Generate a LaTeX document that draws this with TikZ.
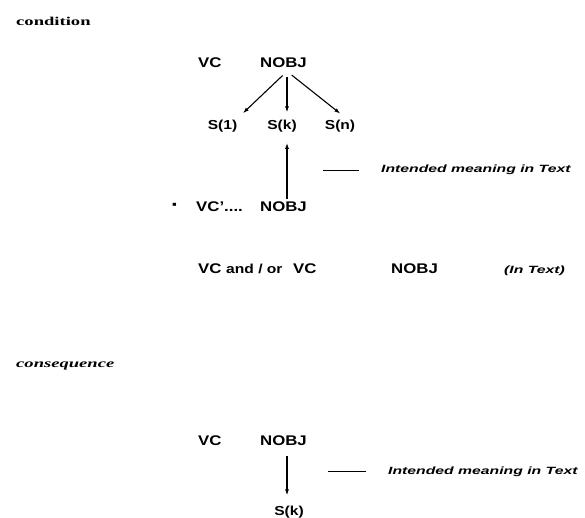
\documentclass[tikz,border=0pt]{standalone}
\usepackage{fontspec}
\setmainfont{Liberation Sans}
\newfontfamily\termfont[FakeStretch=1.2]{Liberation Sans}
\newfontfamily\glossfont[FakeStretch=1.5]{Liberation Sans}
\newfontfamily\headfont[FakeStretch=1.55]{Liberation Serif}
\usetikzlibrary{positioning, arrows.meta}
\tikzset{
  term/.style  = {inner sep=3pt, font=\termfont\bfseries\fontsize{14}{16}\selectfont},
  small/.style = {inner sep=3pt, font=\termfont\bfseries\fontsize{13}{15}\selectfont},
  gloss/.style = {inner sep=1pt, font=\glossfont\bfseries\itshape\fontsize{10.5}{12}\selectfont},
  head/.style  = {inner sep=1pt, anchor=base west, font=\headfont\bfseries\fontsize{12}{14}\selectfont},
  ar/.style    = {-{Latex[length=6pt,width=4pt]}, line width=1.1pt, draw=black},
  rule/.style  = {line width=1.1pt, draw=black},
}

\begin{document}
\begin{tikzpicture}[x=1pt, y=-1pt]
  \useasboundingbox (0,0) rectangle (585,518);

  % condition
  \node[head] (cond) at (15,26) {condition};

  \node[term, anchor=base west] (vcA) at (195,68) {VC};
  \node[term, anchor=base] (nobjA) at (283.5,68) {NOBJ};
  \node[small, anchor=base] (sOne) at (222.5,130) {S(1)};
  \node[small, anchor=base] (sK) at (282,130) {S(k)};
  \node[small, anchor=base] (sN) at (340,130) {S(n)};
  \coordinate (fork) at ([xshift=3.5pt]nobjA.south);

  \draw[ar, shorten <=6pt, shorten >=6pt] (fork) -- (sOne.30);
  \draw[ar, shorten <=6pt, shorten >=5pt] (fork) -- (fork |- sK.north);
  \draw[ar, shorten <=6pt, shorten >=6pt] (fork) -- ([xshift=5pt]sN.north);

  \node[gloss, anchor=base west] (glossA) at (380,173) {Intended meaning in Text};
  \draw[rule] ([xshift=-21pt]glossA.west) -- ([xshift=-57pt]glossA.west);

  \node[term, font=\termfont\bfseries\fontsize{20}{20}\selectfont] (dotmark) at (175,207) {·};
  \node[term, anchor=base west] (vcB) at (193,212) {VC’....};
  \node[term, anchor=base] (nobjB) at (283.5,212) {NOBJ};
  \draw[ar, shorten >=7pt] (fork |- nobjB.north) -- (fork |- sK.south);

  \node[term, anchor=base west] (vcC) at (195,273) {VC};
  \node[small, anchor=base west] (andor) at (223,273) {and / or};
  \node[term, anchor=base west] (vcD) at (290,273) {VC};
  \node[term, anchor=base west] (nobjC) at (388,273) {NOBJ};
  \node[gloss, anchor=base west] (intext) at (503,273) {(In Text)};

  % consequence
  \node[head, font=\headfont\bfseries\itshape\fontsize{12}{14}\selectfont] (cons) at (15,367) {consequence};

  \node[term, anchor=base west] (vcE) at (195,445) {VC};
  \node[term, anchor=base] (nobjE) at (283.5,445) {NOBJ};
  \node[small, anchor=base] (sKb) at (289,515) {S(k)};
  \coordinate (drop) at ([xshift=3.5pt]nobjE.south);
  \draw[ar, shorten <=8pt, shorten >=7pt] (drop) -- (drop |- sKb.north);

  \node[gloss, anchor=base west] (glossB) at (387,474) {Intended meaning in Text};
  \draw[rule] ([xshift=-21pt]glossB.west) -- ([xshift=-59pt]glossB.west);
\end{tikzpicture}
\end{document}
